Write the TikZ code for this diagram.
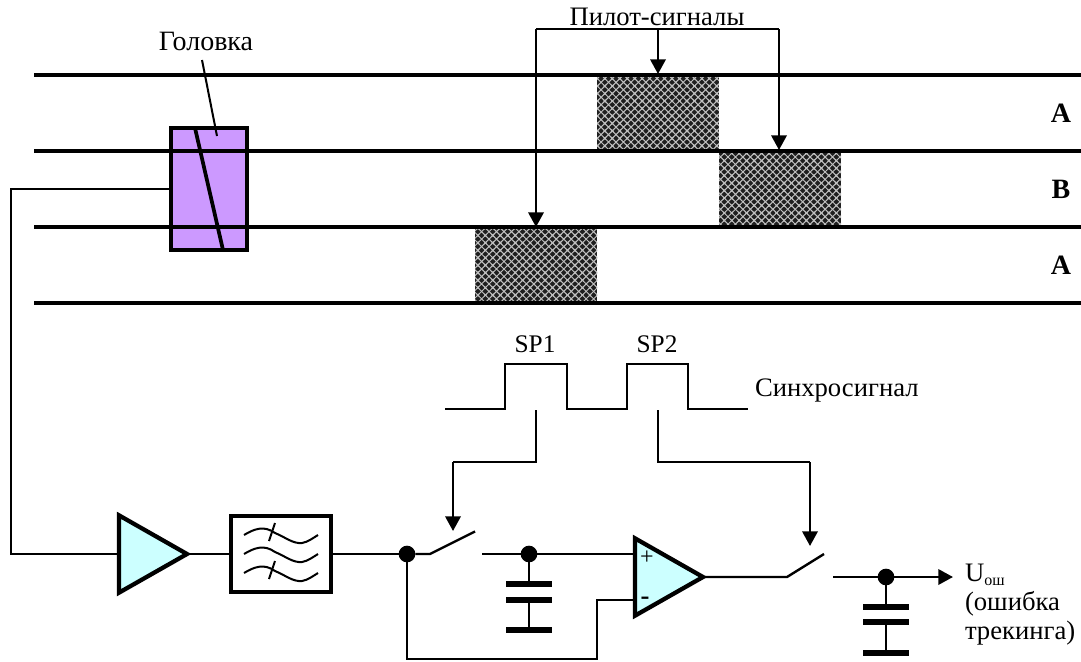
\documentclass[tikz,border=0pt]{standalone}
\usepackage{fontspec}
\setmainfont{Liberation Serif}
\usetikzlibrary{shapes.geometric,patterns,arrows.meta,calc}
\definecolor{headfill}{HTML}{CC99FF}
\definecolor{ampfill}{HTML}{CCFFFF}
\pgfdeclarepatternformonly{weave}{\pgfqpoint{-1pt}{-1pt}}{\pgfqpoint{7pt}{7pt}}{\pgfqpoint{5.6pt}{5.6pt}}{%
  \pgfsetlinewidth{0.75pt}%
  \pgfpathmoveto{\pgfqpoint{-1pt}{-1pt}}\pgfpathlineto{\pgfqpoint{6.6pt}{6.6pt}}%
  \pgfpathmoveto{\pgfqpoint{-1pt}{6.6pt}}\pgfpathlineto{\pgfqpoint{6.6pt}{-1pt}}%
  \pgfusepath{stroke}}
\tikzset{
  track/.style={line width=3.4pt},
  wire/.style={line width=1.8pt},
  thin wire/.style={line width=1.5pt},
  sig/.style={line width=1.9pt},
  arr/.style={line width=1.8pt,-{Triangle[length=11pt,width=11.5pt]},shorten >=0pt},
  block/.style={inner sep=0pt,outer sep=0pt,minimum width=91.5pt,minimum height=57pt,
    preaction={fill=black!88},pattern=weave,pattern color=black!25},
  head/.style={draw,line width=3.2pt,inner sep=0pt,outer sep=0pt,fill=headfill,minimum width=57pt,minimum height=91.5pt},
  amp/.style={draw,line width=3.2pt,fill=ampfill,isosceles triangle,isosceles triangle stretches,
    shape border rotate=0,inner sep=0pt,outer sep=0pt,minimum width=58pt,minimum height=51pt,anchor=apex,line join=miter},
  filt/.style={draw,line width=3.2pt,inner sep=0pt,outer sep=0pt,minimum width=75pt,minimum height=57pt},
  dot/.style={circle,fill=black,inner sep=0pt,outer sep=0pt,minimum size=12.5pt},
  label/.style={font=\fontsize{20pt}{24pt}\selectfont,inner sep=0pt,outer sep=0pt},
  side/.style={font=\fontsize{21pt}{22pt}\selectfont\bfseries,inner sep=0pt},
  plate/.style={line width=3.8pt},
  plateb/.style={line width=5pt},
  wave/.style={line width=1.5pt}
}
\newcommand{\wavepath}[1]{\draw[wave] (244,#1) .. controls (254,#1-6) and (264,#1-10) .. (275,#1-2) .. controls (285,#1+2) and (293,#1+9) .. (302,#1+8) .. controls (308,#1+7) and (313,#1+3) .. (318,#1);}
\begin{document}
\begin{tikzpicture}[x=0.75pt,y=-0.75pt]
\useasboundingbox (0,0) rectangle (1081,661);
% pilot blocks
\node[block,anchor=north west] (pa) at (597,75) {};
\node[block,anchor=north west] (pb) at (719,151) {};
\node[block,anchor=north west] (pc) at (475,227) {};
% head
\node[head,anchor=north west] (hd) at (171,128) {};
\draw[line width=2.8pt] (195,128) -- (223,250);
% tracks
\coordinate (t1a) at (34,75); \coordinate (t1b) at (1081,75);
\coordinate (t2a) at (34,151); \coordinate (t2b) at (1081,151);
\coordinate (t3a) at (34,227); \coordinate (t3b) at (1081,227);
\coordinate (t4a) at (34,303); \coordinate (t4b) at (1081,303);
\foreach \t in {1,2,3,4} \draw[track] (t\t a) -- (t\t b);
% labels
\node[label,font=\fontsize{21pt}{24pt}\selectfont] (lh) at (206,41) {Головка};
\node[label] (lp) at (657,17) {Пилот-сигналы};
\node[side] (sa1) at (1061,113) {A};
\node[side] (sb) at (1061,189) {B};
\node[side] (sa2) at (1061,265) {A};
\coordinate (lhe) at (202,60); \coordinate (lhi) at (217,136);
\draw[thin wire] (lhe) -- (lhi);
% pilot arrows
\coordinate (pl) at (536,29); \coordinate (pm) at (658,29); \coordinate (pr) at (779,29);
\coordinate (pct) at (536,227); \coordinate (pat) at (658,74); \coordinate (pbt) at (779,150);
\draw[sig] (pct |- pl) -- (pr);
\draw[arr] (pl) -- (pct);
\draw[arr] (pm) -- (pat);
\draw[arr] (pr) -- (pbt);
% sync signal
\coordinate (s0) at (445,409); \coordinate (s1) at (748,409);
\draw[sig,line join=miter] (s0) -- (505,409) -- (505,364) -- (567,364) -- (567,409) -- (627,409) -- (627,364) -- (688,364) -- (688,409) -- (s1);
\node[label,font=\fontsize{19pt}{24pt}\selectfont] (sp1) at (535,344) {SP1};
\node[label,font=\fontsize{19pt}{24pt}\selectfont] (sp2) at (657,344) {SP2};
\node[label,anchor=west] (syn) at (755,391) {Синхросигнал};
% lower chain
\node[amp] (a1) at (187,554) {};
\node[filt,fill=white,anchor=west] (fl) at (231,554) {};
\wavepath{535}\wavepath{554}\wavepath{573}
\draw[wave] (275,523) -- (269,541);
\draw[wave] (275,561) -- (269,579);
\node[dot] (j1) at (407,554) {};
\coordinate (sw1a) at (430,554); \coordinate (sw1b) at (475,531.5); \coordinate (sw1c) at (482,554);
\node[dot] (j2) at (529,554) {};
\node[amp] (a2) at (703,577) {};
\coordinate (sw2a) at (787,577); \coordinate (sw2b) at (824,554); \coordinate (sw2c) at (833,577);
\node[dot] (j3) at (886,577) {};
\coordinate (out) at (953,577);
% wires
\draw[wire] (hd.west |- 0,189) -- (11,189) -- (11,554) -- (a1.lower side);
\draw[wire] (a1.apex) -- (fl.west);
\draw[wire] (fl.east) -- (j1);
\draw[wire] (j1) -- (sw1a) -- (sw1b);
\draw[wire] (sw1c) -- (j2);
\draw[wire] (j2) -- (635,554);
\draw[wire] (j1) -- (407,659) -- (597,659) -- (597,600) -- (635,600);
\draw[wire] (a2.apex) -- (sw2a) -- (sw2b);
\draw[wire] (sw2c) -- (j3);
\draw[arr] (j3) -- (out);
% caps
\coordinate (c1a) at (529,584); \coordinate (c1b) at (529,600); \coordinate (c1c) at (529,630);
\draw[wire] (j2) -- (c1a); \draw[wire] (c1b) -- (c1c);
\draw[plate] (506,584) -- (552,584);
\draw[plate] (506,600) -- (552,600);
\draw[plateb] (506,630) -- (552,630);
\coordinate (c2a) at (886,607); \coordinate (c2b) at (886,622); \coordinate (c2c) at (886,653);
\draw[wire] (j3) -- (c2a); \draw[wire] (c2b) -- (c2c);
\draw[plate] (863,607) -- (909,607);
\draw[plate] (863,622) -- (909,622);
\draw[plateb] (863,653) -- (909,653);
% control arrows
\coordinate (k1) at (536,410); \coordinate (k1t) at (453,531);
\coordinate (k2) at (658,410); \coordinate (k2t) at (810,546);
\draw[wire] (k1) -- (536,462) -- (453,462);
\draw[arr] (453,462) -- (k1t);
\draw[wire] (k2) -- (658,462) -- (810,462);
\draw[arr] (810,462) -- (k2t);
% opamp signs
\node[font=\fontsize{18pt}{18pt}\selectfont,inner sep=0pt] (plus) at (647,558) {+};
\node[font=\fontsize{20pt}{20pt}\selectfont\bfseries,inner sep=0pt] (minus) at (645,601) {-};
% output text
\node[label,anchor=west] (uo) at (965,575) {U\raisebox{-0.3ex}{\fontsize{12pt}{12pt}\selectfont ош}};
\node[label,anchor=west] (ue) at (965,604) {(ошибка};
\node[label,anchor=west] (ut) at (965,633) {трекинга)};
\end{tikzpicture}
\end{document}
